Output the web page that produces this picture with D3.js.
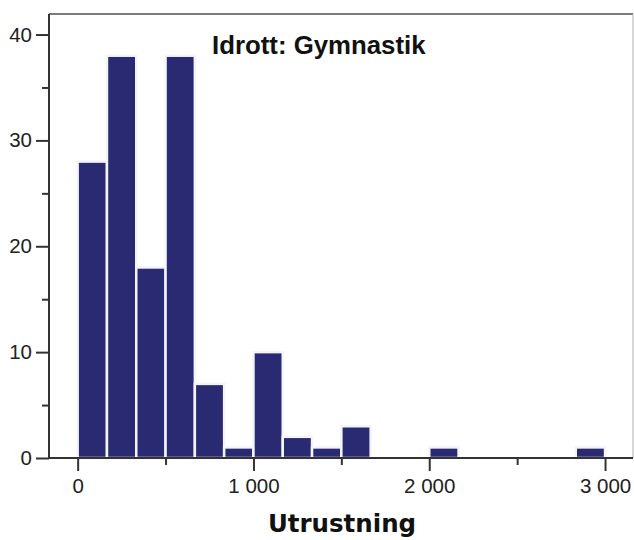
<!DOCTYPE html>
<html>
<head>
<meta charset="utf-8">
<script src="https://cdn.jsdelivr.net/npm/d3@7"></script>
<style>
  body { margin: 0; background: #fff; }
  svg { display: block; }
</style>
</head>
<body>
<script>
// histogram bins (lower edge, width 3000/18) and counts
var binWidth = 3000 / 18;
var binStarts = d3.range(18).map(i => i * binWidth);
var counts = [28, 38, 18, 38, 7, 1, 10, 2, 1, 3, 0, 0, 1, 0, 0, 0, 0, 1];
var xMajor = [0, 1000, 2000, 3000];
var xMinor = [500, 1500, 2500];
var yMajor = [0, 10, 20, 30, 40];
var yMinor = [5, 15, 25, 35];

var data = binStarts.map((s, i) => ({x0: s, x1: s + binWidth, n: counts[i]}));

const width = 634;
const height = 540;
const plotLeft = 49, plotRight = 633, plotTop = 14, plotBottom = 458;

const xScale = d3.scaleLinear()
                .domain([-163, 3159])
                .range([plotLeft, plotRight]);

const yScale = d3.scaleLinear()
                .domain([0, 41.94])
                .range([plotBottom, plotTop]);

let svg = d3.select('body')
            .append('svg')
            .attr('width', width)
            .attr('height', height);

// frame (top and right)
svg.append('line')
    .attr('x1', plotLeft).attr('x2', plotRight)
    .attr('y1', plotTop).attr('y2', plotTop)
    .attr('stroke', '#7a7a7a').attr('stroke-width', 2);
svg.append('line')
    .attr('x1', plotRight).attr('x2', plotRight)
    .attr('y1', plotTop).attr('y2', plotBottom)
    .attr('stroke', '#b0b0b0').attr('stroke-width', 1);

// bars
svg.append('g')
    .selectAll('rect')
    .data(data.filter(d => d.n > 0))
    .enter()
    .append('rect')
        .attr('x', d => xScale(d.x0))
        .attr('y', d => yScale(d.n))
        .attr('width', d => xScale(d.x1) - xScale(d.x0))
        .attr('height', d => plotBottom - yScale(d.n))
        .attr('fill', '#2a2a72')
        .attr('stroke', '#f4f4fb')
        .attr('stroke-width', 2.5);

// y axis
let yAxis = svg.append('g')
    .attr('transform', `translate(${plotLeft},0)`)
    .call(d3.axisLeft(yScale).tickValues(yMajor).tickSize(13).tickPadding(4));
yAxis.append('g')
    .call(d3.axisLeft(yScale).tickValues(yMinor).tickSize(7).tickFormat(''));

// x axis
let xAxis = svg.append('g')
    .attr('transform', `translate(0,${plotBottom})`)
    .call(d3.axisBottom(xScale).tickValues(xMajor).tickSize(13).tickPadding(7)
        .tickFormat(d => d3.format(',')(d).replace(/,/g, ' ')));
xAxis.append('g')
    .call(d3.axisBottom(xScale).tickValues(xMinor).tickSize(7).tickFormat(''));

svg.selectAll('.domain').attr('stroke', '#333').attr('stroke-width', 2);
svg.selectAll('.tick line').attr('stroke', '#333').attr('stroke-width', 2);
svg.selectAll('.tick text')
    .attr('fill', '#222')
    .style('font-family', '"Liberation Sans", Arial, sans-serif')
    .style('font-size', '20.5px');
yAxis.selectAll('.domain').attr('d', `M0,${plotTop}V${plotBottom}`);
xAxis.selectAll('.domain').attr('d', `M${plotLeft},0H${plotRight}`);

// title
svg.append('text')
    .attr('x', 212)
    .attr('y', 54)
    .style('font-family', '"Liberation Sans", Arial, sans-serif')
    .style('font-weight', 'bold')
    .style('font-size', '25.8px')
    .attr('fill', '#111')
    .text('Idrott: Gymnastik');

// x-axis label
svg.append('text')
    .attr('x', 342)
    .attr('y', 532)
    .attr('text-anchor', 'middle')
    .style('font-family', '"DejaVu Sans", Verdana, sans-serif')
    .style('font-weight', 'bold')
    .style('font-size', '24.5px')
    .attr('fill', '#111')
    .text('Utrustning');
</script>
</body>
</html>
